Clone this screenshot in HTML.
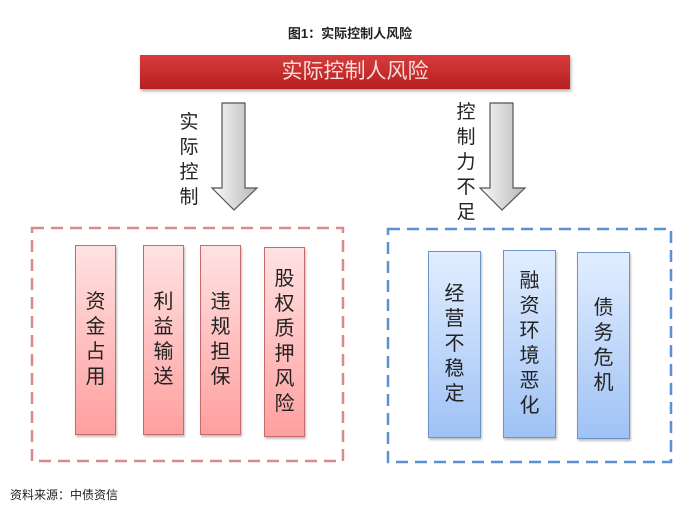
<!DOCTYPE html>
<html><head><meta charset="utf-8"><style>
body{margin:0;width:700px;height:528px;background:#fff;position:relative;font-family:"Liberation Sans","Noto Sans CJK SC",sans-serif;overflow:hidden}
.a{position:absolute}
.vt{position:absolute;display:flex;flex-direction:column;align-items:center;justify-content:center;font-size:20px;line-height:25px;color:#222}
.rb{background:linear-gradient(#ffe2e2,#ff9f9f);border:1px solid #c96a6a;box-shadow:1px 2px 2px rgba(0,0,0,.25)}
.bb{background:linear-gradient(#e2eeff,#9fc2f5);border:1px solid #6b93c9;box-shadow:1px 2px 2px rgba(0,0,0,.25)}
</style></head><body>
<div class="a" style="left:0;width:700px;top:23px;text-align:center;font-size:13px;font-weight:bold;color:#222">图1：实际控制人风险</div>
<div class="a" style="left:140px;top:55px;width:430px;height:34px;background:linear-gradient(#d83c3c,#b52020);box-shadow:1px 2px 3px rgba(0,0,0,.35);color:#f4dede;font-size:21px;line-height:34px;text-align:center">实际控制人风险</div>
<svg class="a" style="left:0;top:0" width="700" height="528">
<defs><linearGradient id="g" x1="0" x2="1"><stop offset="0" stop-color="#fafafa"/><stop offset="1" stop-color="#b8b8b8"/></linearGradient></defs>
<polygon points="222,103 245,103 245,188 257,188 234,210 212,188 222,188" fill="url(#g)" stroke="#555" stroke-width="1.2"/>
<polygon points="490,103 513,103 513,188 525,188 502,210 480,188 490,188" fill="url(#g)" stroke="#555" stroke-width="1.2"/>
<rect x="32" y="228" width="311" height="233" fill="none" stroke="#d98a8a" stroke-width="2.5" stroke-dasharray="12,7"/>
<rect x="388" y="229" width="283" height="233" fill="none" stroke="#5b8fd6" stroke-width="2.5" stroke-dasharray="12,7"/>
</svg>
<div class="vt" style="left:176px;top:110px;width:26px;height:100px;font-size:19px">实<br>际<br>控<br>制</div>
<div class="vt" style="left:453px;top:100px;width:26px;height:125px;font-size:19px">控<br>制<br>力<br>不<br>足</div>
<div class="vt rb" style="left:75px;top:245px;width:39px;height:188px">资<br>金<br>占<br>用</div>
<div class="vt rb" style="left:143px;top:245px;width:39px;height:188px">利<br>益<br>输<br>送</div>
<div class="vt rb" style="left:200px;top:245px;width:39px;height:188px">违<br>规<br>担<br>保</div>
<div class="vt rb" style="left:264px;top:247px;width:39px;height:188px">股<br>权<br>质<br>押<br>风<br>险</div>
<div class="vt bb" style="left:428px;top:251px;width:51px;height:185px">经<br>营<br>不<br>稳<br>定</div>
<div class="vt bb" style="left:503px;top:250px;width:51px;height:186px">融<br>资<br>环<br>境<br>恶<br>化</div>
<div class="vt bb" style="left:577px;top:252px;width:51px;height:185px">债<br>务<br>危<br>机</div>
<div class="a" style="left:10px;top:486px;font-size:12px;color:#222">资料来源：中债资信</div>
</body></html>
